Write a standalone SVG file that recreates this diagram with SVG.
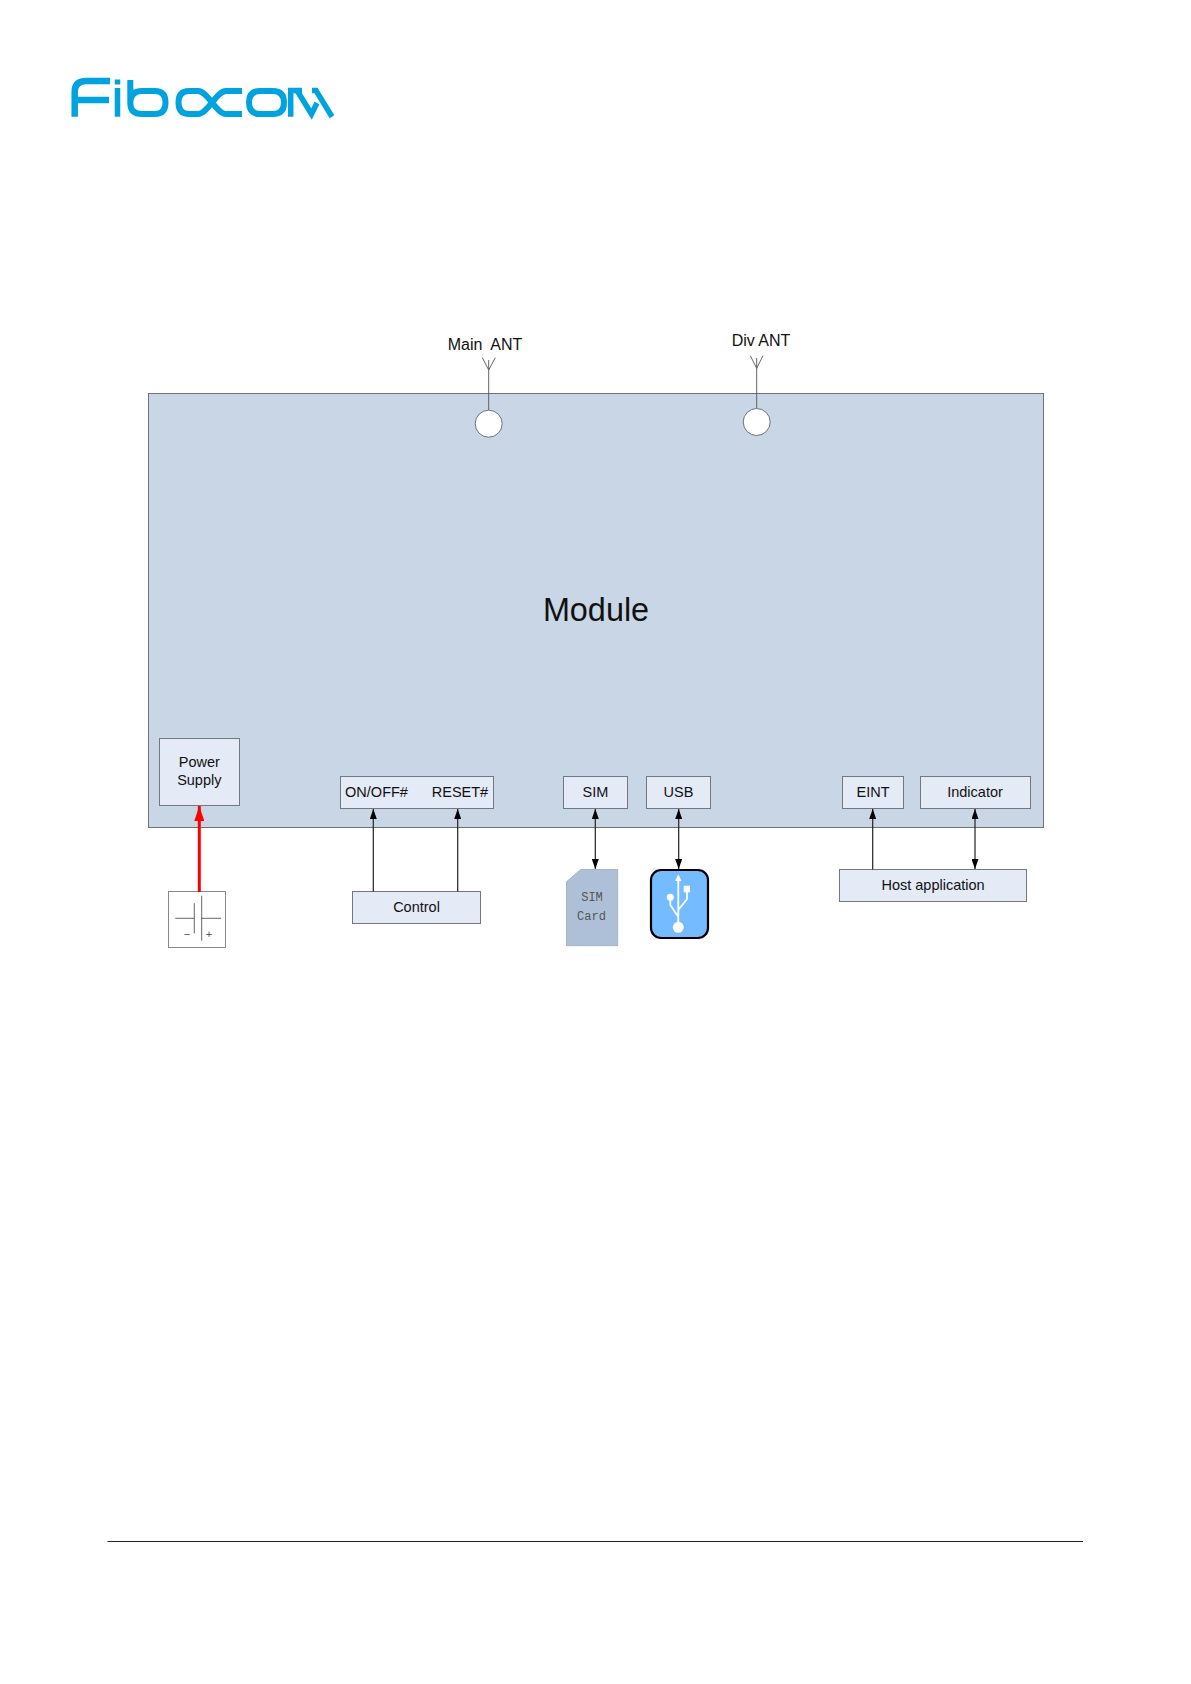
<svg xmlns="http://www.w3.org/2000/svg" width="1191" height="1684" viewBox="0 0 1191 1684">
<style>
text{font-family:"Liberation Sans",Arial,sans-serif;font-size:14.5px;fill:#111;text-anchor:middle}
.box{fill:#e4ebf6;stroke:#73787e;stroke-width:1}
.wire{fill:none;stroke:#222;stroke-width:1.2}
.thin{fill:none;stroke:#555;stroke-width:.9}
.logo{fill:none;stroke:#00a3de;stroke-width:6}
.sim{font-family:"Liberation Mono",monospace;font-size:12px;fill:#555}
</style>
<defs>
<marker id="ah" markerUnits="userSpaceOnUse" markerWidth="10" markerHeight="7" refX="10" refY="3.5" orient="auto-start-reverse"><path d="M0 0L10 3.5L0 7Z" fill="#000"/></marker>
<marker id="ahr" markerUnits="userSpaceOnUse" markerWidth="15" markerHeight="10" refX="15" refY="5" orient="auto"><path d="M0 0L15 5L0 10Z" fill="#f00"/></marker>
</defs>
<rect width="1191" height="1684" fill="#fff"/>
<g id="logo" class="logo">
<path d="M74.700 116.700V92Q74.700 81 86 81H110M74.700 100H109" stroke-width="6.500"/>
<path d="M117.500 79.500V84.500M117.500 88V116.700" stroke-width="5.500"/>
<path d="M130.300 80V103Q130.300 114 142 114H155Q165.500 114 165.500 102.500Q165.500 91 155 91H142Q130.300 91 130.300 103"/>
<path d="M242 91H226C216 91 208 114 198 114H189Q178.500 114 178.500 102.500Q178.500 91 189 91H198C208 91 216 114 226 114H242"/>
<path d="M260 91H273Q284 91 284 102.500Q284 114 273 114H260Q249 114 249 102.500Q249 91 260 91Z"/>
<path d="M290.700 116.700V90.500H302M297 90.500L311.500 114L317 103M312 90.500H316L332 116.700" stroke-width="5.500"/>
</g>
<g id="module"><rect x="148.500" y="393.500" width="895" height="434" fill="#c8d6e6" stroke="#6d7278" stroke-width="1"/><text x="596" y="621" style="font-size:32.400px">Module</text></g>
<g id="main-ant"><path class="thin" d="M482.300 357.700L488.700 370L495.300 357.700M488.700 360V410"/><circle cx="488.700" cy="423.700" r="13.500" fill="#fff" stroke="#6d7278"/><text x="485" y="350" style="font-size:16px" xml:space="preserve">Main  ANT</text></g>
<g id="div-ant"><path class="thin" d="M750.300 355.700L756.700 368.300L763 355.700M756.700 358V408.500"/><circle cx="756.700" cy="422" r="13.500" fill="#fff" stroke="#6d7278"/><text x="761" y="346" style="font-size:16px">Div ANT</text></g>
<g id="power-supply"><rect class="box" x="159.500" y="738.500" width="80" height="67"/><text x="199.300" y="767">Power</text><text x="199.300" y="785">Supply</text></g>
<g id="onoff-reset"><rect class="box" x="340.500" y="776.500" width="153" height="32"/><text x="376.500" y="796.500">ON/OFF#</text><text x="460" y="796.500">RESET#</text></g>
<g id="sim"><rect class="box" x="563.500" y="776.500" width="64" height="32"/><text x="595.500" y="796.500">SIM</text></g>
<g id="usb"><rect class="box" x="646.500" y="776.500" width="64" height="32"/><text x="678.500" y="796.500">USB</text></g>
<g id="eint"><rect class="box" x="842.500" y="776.500" width="61" height="32"/><text x="873" y="796.500">EINT</text></g>
<g id="indicator"><rect class="box" x="920.500" y="776.500" width="110" height="32"/><text x="975" y="796.500">Indicator</text></g>
<g id="battery"><rect x="168.500" y="891.500" width="57" height="56" fill="#fff" stroke="#888" stroke-width="1"/><path class="thin" d="M201.700 895.700V940.700M194.300 903.300V933.300M175.300 918.300H194.300M201.700 918.300H221"/><text x="187" y="938" style="font-size:11px;fill:#555">−</text><text x="209" y="938" style="font-size:11px;fill:#555">+</text></g>
<g id="control"><rect class="box" x="352.500" y="891.500" width="128" height="32"/><text x="416.500" y="911.500">Control</text></g>
<g id="sim-card"><path d="M580.700 869.500H617.700V945.700H566.500V881.700Z" fill="#aec0d8" stroke="#98a8bc" stroke-width=".8"/><text class="sim" x="592" y="901">SIM</text><text class="sim" x="591.500" y="920">Card</text></g>
<g id="usb-icon"><rect x="651" y="870" width="57" height="68" rx="10" fill="#74bbff" stroke="#000" stroke-width="2.200"/>
<path d="M678.300 880V925M687 892V899L678.300 910M670.300 900V905L678.300 917" fill="none" stroke="#fff" stroke-width="1.800"/>
<path d="M678.300 874.300L681.500 881H675Z" fill="#fff"/><rect x="683.700" y="885.700" width="6.300" height="6.600" fill="#fff"/><circle cx="670.300" cy="897.300" r="3.500" fill="#fff"/><circle cx="678.300" cy="927.300" r="5.500" fill="#fff"/></g>
<g id="host"><rect class="box" x="839.500" y="869.500" width="187" height="32"/><text x="933" y="889.500">Host application</text></g>
<g id="connectors">
<line x1="199.300" y1="892" x2="199.300" y2="806" stroke="#f00" stroke-width="3" marker-end="url(#ahr)"/>
<line class="wire" x1="373.300" y1="891.500" x2="373.300" y2="809" marker-end="url(#ah)"/>
<line class="wire" x1="457.700" y1="891.500" x2="457.700" y2="809" marker-end="url(#ah)"/>
<line class="wire" x1="595.300" y1="809" x2="595.300" y2="869" marker-start="url(#ah)" marker-end="url(#ah)"/>
<line class="wire" x1="678.700" y1="809" x2="678.700" y2="869" marker-start="url(#ah)" marker-end="url(#ah)"/>
<line class="wire" x1="872.700" y1="869.500" x2="872.700" y2="809" marker-end="url(#ah)"/>
<line class="wire" x1="975" y1="809" x2="975" y2="869" marker-start="url(#ah)" marker-end="url(#ah)"/>
</g>
<line id="footer-rule" x1="107.500" y1="1541.500" x2="1083" y2="1541.500" stroke="#222" stroke-width="1"/>
</svg>
